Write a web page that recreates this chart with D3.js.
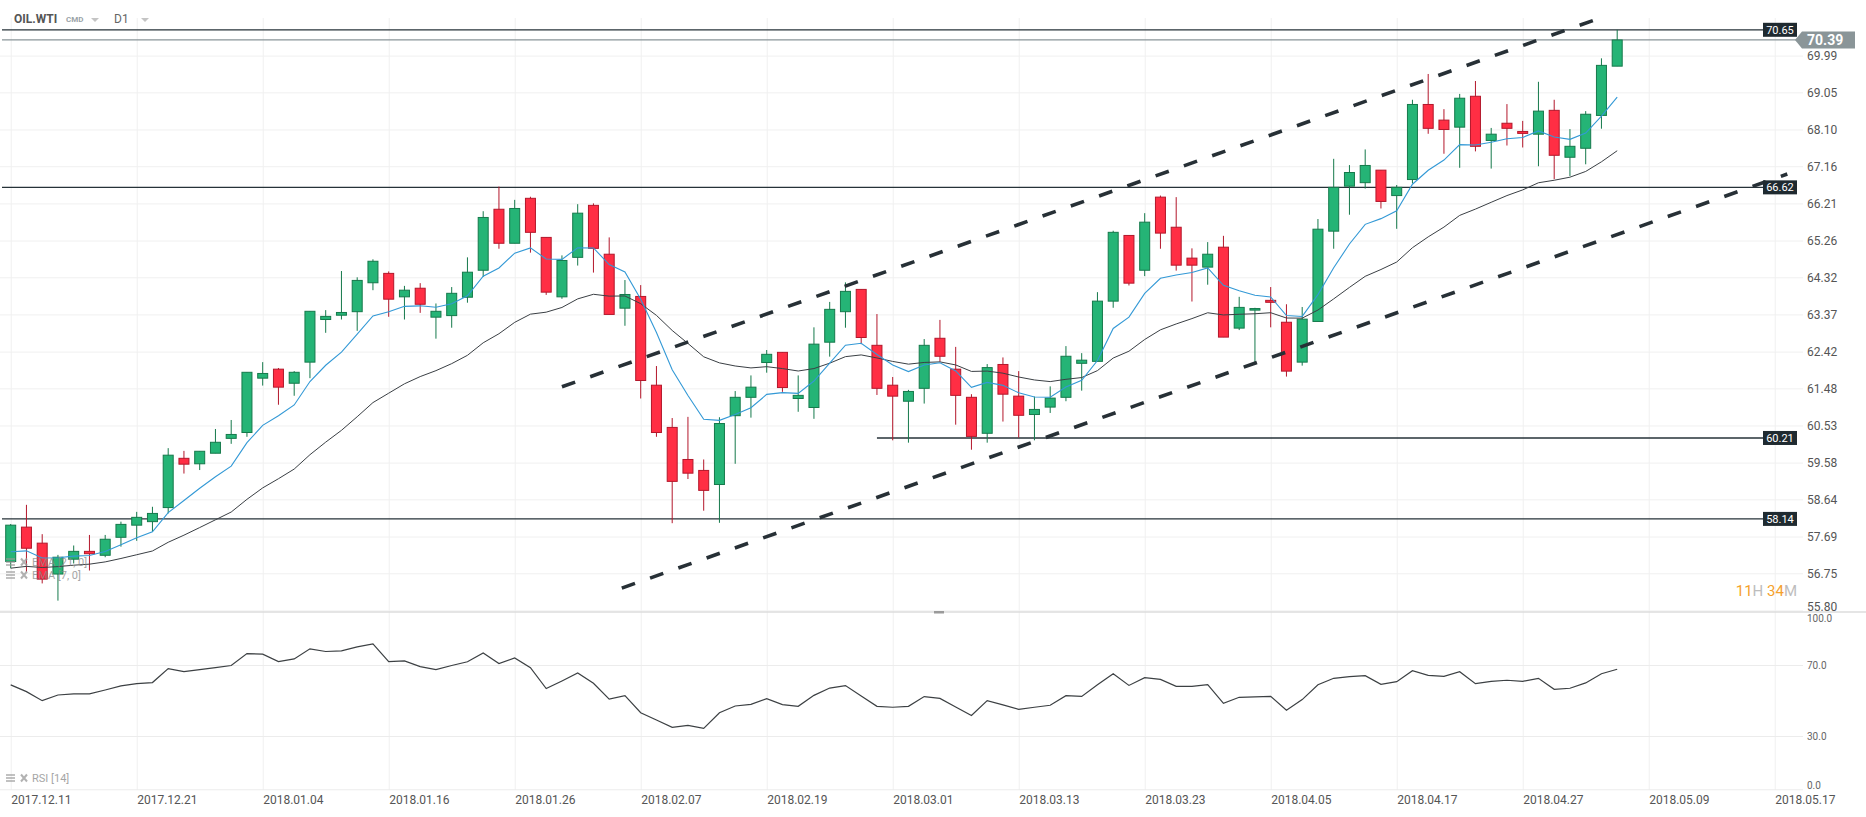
<!DOCTYPE html>
<html>
<head>
<meta charset="utf-8">
<script src="https://cdn.jsdelivr.net/npm/d3@7"></script>
<style>
  body { margin: 0; background: #fff; }
  svg { display: block; font-family: Roboto, 'Open Sans', sans-serif; }
</style>
</head>
<body>
<svg id="chart" width="1866" height="817"></svg>
<script>
// OIL.WTI daily candles, 2017.12.11 -> 2018.05.07
const opens = [57.05, 57.93, 57.52, 56.73, 57.11, 57.31, 57.21, 57.67, 57.98, 58.07,
  58.43, 59.69, 59.55, 59.82, 60.20, 60.35, 61.74, 61.97, 61.61, 62.15,
  63.24, 63.35, 63.44, 64.18, 64.42, 63.82, 64.04, 63.30, 63.34, 63.81,
  64.50, 66.06, 65.19, 66.34, 65.34, 63.82, 64.83, 66.16, 64.91, 63.53,
  63.83, 61.56, 60.48, 59.66, 59.38, 59.02, 60.78, 61.25, 62.14, 62.40,
  61.22, 60.99, 62.66, 63.44, 64.01, 62.58, 61.56, 61.15, 61.48, 62.76,
  61.97, 61.25, 60.33, 62.09, 61.28, 60.81, 61.00, 61.25, 62.12, 62.17,
  63.71, 65.39, 64.50, 66.37, 65.60, 64.81, 64.58, 65.09, 63.02, 63.48,
  63.73, 63.17, 62.15, 63.19, 65.50, 66.65, 66.74, 67.06, 66.41, 66.82,
  68.74, 68.34, 68.16, 68.95, 67.82, 68.26, 68.05, 67.98, 68.59, 67.39,
  67.62, 68.46, 69.72];
const highs = [58.01, 58.50, 57.75, 57.22, 57.46, 57.73, 57.73, 58.07, 58.32, 58.45,
  59.95, 59.88, 59.87, 60.44, 60.67, 61.89, 62.15, 62.00, 61.92, 63.45,
  63.48, 64.48, 64.32, 64.78, 64.47, 64.10, 64.17, 63.65, 64.07, 64.83,
  66.01, 66.64, 66.30, 66.38, 65.34, 64.88, 66.19, 66.21, 65.34, 64.25,
  64.12, 62.05, 60.72, 60.75, 59.66, 60.74, 61.41, 61.81, 62.46, 62.40,
  61.81, 63.04, 63.69, 64.19, 64.01, 63.38, 61.77, 61.44, 62.74, 63.23,
  62.54, 61.33, 62.10, 62.27, 61.92, 61.27, 61.53, 62.56, 62.38, 63.94,
  65.51, 65.39, 65.96, 66.41, 66.37, 65.06, 65.22, 65.38, 63.82, 63.54,
  64.07, 63.63, 63.56, 65.81, 67.35, 67.19, 67.59, 67.06, 66.68, 68.86,
  69.52, 68.62, 69.01, 69.34, 68.14, 68.75, 68.32, 69.32, 68.86, 68.11,
  68.57, 69.92, 70.65];
const lows = [56.88, 56.79, 56.49, 56.05, 57.00, 56.82, 57.16, 57.43, 57.58, 57.81,
  58.28, 59.30, 59.39, 59.82, 60.06, 60.24, 61.55, 61.06, 61.29, 61.74,
  62.90, 63.24, 62.95, 63.99, 63.31, 63.24, 63.41, 62.75, 63.03, 63.67,
  64.33, 65.05, 65.19, 64.95, 63.87, 63.77, 64.62, 64.44, 63.37, 63.08,
  61.22, 60.24, 58.03, 59.16, 58.35, 58.04, 59.55, 60.73, 61.88, 61.39,
  60.88, 60.70, 62.29, 63.03, 62.61, 61.31, 60.15, 60.09, 61.09, 62.16,
  60.55, 59.91, 60.09, 60.63, 60.22, 60.15, 60.85, 61.15, 61.42, 62.17,
  63.54, 64.11, 64.35, 65.05, 64.49, 63.70, 64.13, 62.79, 62.97, 62.12,
  63.04, 61.78, 62.06, 63.19, 65.05, 65.92, 66.59, 66.08, 65.56, 66.72,
  67.99, 67.48, 67.12, 67.54, 67.10, 67.69, 67.64, 67.16, 66.83, 66.91,
  67.21, 68.12, 69.72];
const closes = [57.98, 57.39, 56.60, 57.16, 57.31, 57.25, 57.62, 58.00, 58.18, 58.28,
  59.77, 59.54, 59.87, 60.10, 60.30, 61.89, 61.86, 61.51, 61.89, 63.45,
  63.32, 63.42, 64.24, 64.73, 63.76, 63.99, 63.63, 63.45, 63.91, 64.45,
  65.85, 65.19, 66.08, 65.47, 63.94, 64.75, 65.96, 65.06, 63.37, 63.88,
  61.68, 60.35, 59.10, 59.31, 58.87, 60.58, 61.25, 61.51, 62.35, 61.50,
  61.30, 62.61, 63.50, 63.96, 62.78, 61.48, 61.28, 61.40, 62.58, 62.30,
  61.30, 60.25, 62.01, 61.33, 60.79, 60.94, 61.23, 62.30, 62.20, 63.71,
  65.47, 64.17, 65.73, 65.45, 64.63, 64.63, 64.91, 62.79, 63.55, 63.52,
  63.68, 61.92, 63.25, 65.55, 66.62, 67.00, 67.18, 66.26, 66.62, 68.74,
  68.13, 68.10, 68.90, 67.67, 67.98, 68.13, 68.00, 68.57, 67.44, 67.67,
  68.49, 69.74, 70.39];

const rsi14 = [58.8, 55.0, 49.9, 53.1, 53.7, 53.7, 55.9, 58.2, 59.5, 60.1,
  68.0, 66.3, 67.4, 68.5, 69.7, 76.4, 76.1, 71.9, 73.4, 79.1,
  77.6, 78.0, 80.2, 81.9, 71.9, 72.3, 69.1, 67.4, 69.7, 71.8,
  76.8, 70.8, 74.0, 68.5, 56.7, 61.0, 65.5, 59.7, 50.8, 52.7,
  43.1, 39.0, 34.9, 36.0, 34.3, 43.1, 46.9, 47.8, 51.0, 47.7,
  46.7, 52.9, 57.0, 58.4, 52.5, 46.7, 46.2, 46.7, 52.2, 51.2,
  46.3, 41.6, 49.9, 47.5, 45.0, 46.2, 47.3, 52.7, 52.3, 58.9,
  65.1, 58.5, 62.9, 61.9, 58.0, 58.0, 58.9, 48.4, 51.8, 52.0,
  52.3, 44.5, 50.5, 58.9, 62.5, 63.4, 64.0, 59.1, 60.6, 66.8,
  64.2, 63.6, 66.2, 59.5, 60.8, 61.4, 60.8, 62.5, 56.3, 56.9,
  59.9, 65.1, 67.6];

// EMA start values read at the first candle
const ema7Start = 57.30;
const ema21Start = 56.88;

const dateLabels = ['2017.12.11', '2017.12.21', '2018.01.04', '2018.01.16', '2018.01.26',
  '2018.02.07', '2018.02.19', '2018.03.01', '2018.03.13', '2018.03.23', '2018.04.05',
  '2018.04.17', '2018.04.27', '2018.05.09', '2018.05.17'];
const priceTicks = [55.80, 56.75, 57.69, 58.64, 59.58, 60.53, 61.48, 62.42, 63.37,
  64.32, 65.26, 66.21, 67.16, 68.10, 69.05, 69.99];
const rsiTicks = [100, 70, 30, 0];

// horizontal levels and the candle index where each one starts
const levels = [70.65, 66.62, 60.21, 58.14];
const levelFrom = [0, 0, 55, 0];
const lastPrice = 70.39;

// channel lines as [candle index, price]
const upperChannel = [[35, 61.52], [103, 71.25]];
const lowerChannel = [[38.8, 56.37], [112.8, 66.96]];

const svg = d3.select('#chart');
const W = 1866;
const paneTop = 18;
const paneBottom = 612;
const axisX = 1803;

const x = d3.scaleLinear().domain([0, 112]).range([10.7, 1774.7]);
const y = d3.scaleLinear().domain([55.80, 69.99]).range([610.4, 55.6]);
const yRsi = d3.scaleLinear().domain([0, 100]).range([789.25, 611.75]);

function ema(values, period, start) {
  const k = 2 / (period + 1);
  const out = [start];
  for (let i = 1; i < values.length; i++) {
    out.push(out[i - 1] + k * (values[i] - out[i - 1]));
  }
  return out;
}

const candles = d3.range(opens.length).map((i) => ({
  i: i, o: opens[i], h: highs[i], l: lows[i], c: closes[i],
}));

svg.append('defs').append('clipPath').attr('id', 'pane')
  .append('rect').attr('x', 0).attr('y', paneTop).attr('width', W).attr('height', paneBottom - paneTop);

// ---- grid ----
const xTicks = d3.range(0, 113, 8);
svg.append('g')
  .attr('transform', `translate(0,${paneTop})`)
  .call(d3.axisBottom(x).tickValues(xTicks).tickSize(790 - paneTop).tickFormat(''))
  .call((g) => g.select('.domain').remove())
  .selectAll('line').attr('stroke', '#f0f0f0');

svg.append('g')
  .call(d3.axisRight(y).tickValues(priceTicks).tickSize(axisX).tickFormat(''))
  .call((g) => g.select('.domain').remove())
  .selectAll('line').attr('stroke', '#f0f0f0');

svg.append('g')
  .call(d3.axisRight(yRsi).tickValues([70, 30, 0]).tickSize(axisX).tickFormat(''))
  .call((g) => g.select('.domain').remove())
  .selectAll('line').attr('stroke', '#ececec');

// pane separator
svg.append('line')
  .attr('x1', 0).attr('x2', W).attr('y1', paneBottom).attr('y2', paneBottom)
  .attr('stroke', '#dcdcdc').attr('stroke-width', 1.5);
svg.append('rect')
  .attr('x', 934).attr('y', paneBottom - 1).attr('width', 10).attr('height', 2.5)
  .attr('fill', '#9a9a9a');

// ---- price axis ----
svg.append('g')
  .attr('transform', `translate(${axisX},0)`)
  .call(d3.axisRight(y).tickValues(priceTicks).tickSize(0).tickPadding(4).tickFormat(d3.format('.2f')))
  .call((g) => g.select('.domain').remove())
  .selectAll('text')
  .attr('font-size', 12)
  .attr('font-family', 'Roboto, sans-serif')
  .attr('fill', '#555')
  .attr('dy', (d) => (d === 55.80 ? '0.02em' : '0.32em'));

// ---- rsi axis ----
svg.append('g')
  .attr('transform', `translate(${axisX},0)`)
  .call(d3.axisRight(yRsi).tickValues(rsiTicks).tickSize(0).tickPadding(4).tickFormat(d3.format('.1f')))
  .call((g) => g.select('.domain').remove())
  .selectAll('text')
  .attr('font-size', 10)
  .attr('font-family', 'Roboto, sans-serif')
  .attr('fill', '#666')
  .attr('dy', (d) => (d === 100 ? '0.95em' : d === 0 ? '-0.1em' : '0.32em'));

// ---- date axis ----
svg.append('g')
  .attr('transform', 'translate(0,790)')
  .call(d3.axisBottom(x).tickValues(xTicks).tickSize(0).tickPadding(5).tickFormat((d, i) => dateLabels[i]))
  .call((g) => g.select('.domain').remove())
  .selectAll('text')
  .attr('text-anchor', 'start')
  .attr('font-size', 12)
  .attr('font-family', 'Roboto, sans-serif')
  .attr('fill', '#555');

const plot = svg.append('g').attr('clip-path', 'url(#pane)');

// ---- horizontal levels ----
plot.selectAll('.level')
  .data(levels)
  .join('line')
  .attr('class', 'level')
  .attr('x1', (d, i) => (levelFrom[i] === 0 ? 2 : x(levelFrom[i])))
  .attr('x2', 1763)
  .attr('y1', (d) => y(d))
  .attr('y2', (d) => y(d))
  .attr('stroke', '#263238')
  .attr('stroke-width', 1.3);

plot.append('line')
  .attr('x1', 2).attr('x2', 1796)
  .attr('y1', y(lastPrice)).attr('y2', y(lastPrice))
  .attr('stroke', '#8a9599').attr('stroke-width', 1.3);

// ---- candles ----
const green = '#25b476';
const greenDark = '#15794b';
const red = '#ff2e44';
const redDark = '#b3172b';

const cg = plot.selectAll('.candle')
  .data(candles)
  .join('g')
  .attr('class', 'candle');
cg.append('line')
  .attr('x1', (d) => x(d.i))
  .attr('x2', (d) => x(d.i))
  .attr('y1', (d) => y(d.h))
  .attr('y2', (d) => y(d.l))
  .attr('stroke', (d) => (d.c >= d.o ? greenDark : redDark))
  .attr('stroke-width', 1);
cg.append('rect')
  .attr('x', (d) => x(d.i) - 5)
  .attr('width', 10)
  .attr('y', (d) => y(Math.max(d.o, d.c)))
  .attr('height', (d) => Math.max(1.5, Math.abs(y(d.o) - y(d.c))))
  .attr('fill', (d) => (d.c >= d.o ? green : red))
  .attr('stroke', (d) => (d.c >= d.o ? greenDark : redDark))
  .attr('stroke-width', 1);

// ---- EMAs ----
const ema7 = ema(closes, 7, ema7Start);
const ema21 = ema(closes, 21, ema21Start);
const emaLine = d3.line().x((d, i) => x(i)).y((d) => y(d));

plot.append('path')
  .datum(ema21)
  .attr('d', emaLine)
  .attr('fill', 'none')
  .attr('stroke', '#3a3f44')
  .attr('stroke-width', 1);
plot.append('path')
  .datum(ema7)
  .attr('d', emaLine)
  .attr('fill', 'none')
  .attr('stroke', '#3399d6')
  .attr('stroke-width', 1.1);

// ---- channel ----
const channelLine = d3.line().x((d) => x(d[0])).y((d) => y(d[1]));
plot.selectAll('.channel')
  .data([upperChannel, lowerChannel])
  .join('path')
  .attr('class', 'channel')
  .attr('d', channelLine)
  .attr('fill', 'none')
  .attr('stroke', '#273036')
  .attr('stroke-width', 3.6)
  .attr('stroke-dasharray', '14,16');

// ---- level tags ----
const tags = svg.selectAll('.tag')
  .data(levels)
  .join('g')
  .attr('class', 'tag')
  .attr('transform', (d) => `translate(1763,${y(d)})`);
tags.append('rect')
  .attr('x', 0).attr('y', -7).attr('width', 34).attr('height', 14)
  .attr('fill', '#1f2a30');
tags.append('text')
  .attr('x', 17).attr('y', 4)
  .attr('text-anchor', 'middle')
  .attr('font-size', 11)
  .attr('fill', '#fff')
  .text((d) => d.toFixed(2));

const yl = y(lastPrice);
svg.append('path')
  .attr('d', `M1795,${yl} L1802,${yl - 8.5} L1855,${yl - 8.5} L1855,${yl + 8.5} L1802,${yl + 8.5} Z`)
  .attr('fill', '#8a9598');
svg.append('text')
  .attr('x', 1807).attr('y', yl + 5)
  .attr('font-size', 14).attr('font-weight', 'bold')
  .attr('fill', '#fff')
  .text(lastPrice.toFixed(2));

// ---- rsi ----
svg.append('path')
  .datum(rsi14)
  .attr('d', d3.line().x((d, i) => x(i)).y((d) => yRsi(d)))
  .attr('fill', 'none')
  .attr('stroke', '#3c4043')
  .attr('stroke-width', 1.2);

// ---- header & legends ----
svg.append('text').attr('x', 14).attr('y', 23)
  .attr('font-size', 12).attr('font-weight', 'bold').attr('fill', '#555')
  .text('OIL.WTI');
svg.append('text').attr('x', 66).attr('y', 22)
  .attr('font-size', 8).attr('font-weight', 'bold').attr('fill', '#9aa3a8')
  .text('CMD');
svg.append('text').attr('x', 114).attr('y', 23)
  .attr('font-size', 12).attr('fill', '#666')
  .text('D1');
[95, 145].forEach((tx) => {
  svg.append('path')
    .attr('d', `M${tx - 4},18 L${tx + 4},18 L${tx},22 Z`)
    .attr('fill', '#c4c4c4');
});

function legend(label, ly) {
  const g = svg.append('g').attr('transform', `translate(6,${ly})`).attr('opacity', 0.75);
  [-3, 0, 3].forEach((dy) => {
    g.append('line').attr('x1', 0).attr('x2', 9).attr('y1', dy).attr('y2', dy)
      .attr('stroke', '#999').attr('stroke-width', 1.6);
  });
  g.append('path').attr('d', 'M15,-3.5 L21,3.5 M21,-3.5 L15,3.5')
    .attr('stroke', '#999').attr('stroke-width', 2);
  g.append('text').attr('x', 26).attr('y', 4)
    .attr('font-size', 11).attr('fill', '#888')
    .text(label);
}
legend('EMA  [21, 0]', 562);
legend('EMA  [7, 0]', 575);
legend('RSI  [14]', 778);

const timer = svg.append('text').attr('x', 1797).attr('y', 596)
  .attr('text-anchor', 'end').attr('font-size', 15);
timer.append('tspan').attr('fill', '#f5a12c').text('11');
timer.append('tspan').attr('fill', '#bdbdbd').text('H ');
timer.append('tspan').attr('fill', '#f5a12c').text('34');
timer.append('tspan').attr('fill', '#bdbdbd').text('M');
</script>
</body>
</html>
